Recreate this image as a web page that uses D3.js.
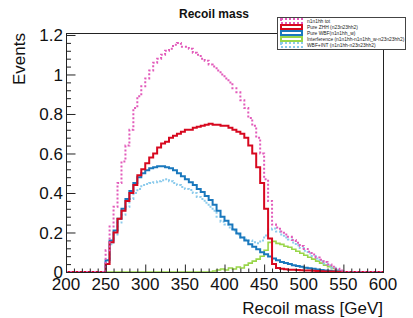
<!DOCTYPE html>
<html>
<head>
<meta charset="utf-8">
<script src="https://cdn.jsdelivr.net/npm/d3@7"></script>
<style>
  body { margin: 0; background: #fff; }
  svg { display: block; font-family: "Liberation Sans", Arial, Helvetica, sans-serif; }
</style>
</head>
<body>
<div id="chart"></div>
<script>
// histogram binning: 5 GeV bins from 200 to 600
var binLow = 200, binWidth = 5;

var zeros10 = [0, 0, 0, 0, 0, 0, 0, 0, 0, 0];

// n1n1hh tot
var totVals = zeros10.concat([
  0.11, 0.23, 0.33, 0.45, 0.56, 0.64, 0.72, 0.83, 0.89, 0.94,
  0.98, 1.02, 1.06, 1.08, 1.10, 1.12, 1.13, 1.15, 1.16, 1.14,
  1.14, 1.13, 1.11, 1.10, 1.08, 1.07, 1.05, 1.04, 1.02, 1.00,
  0.98, 0.96, 0.93, 0.91, 0.87, 0.83, 0.78, 0.74, 0.68, 0.60,
  0.47, 0.36, 0.24, 0.225, 0.205, 0.19, 0.178, 0.162, 0.148, 0.132,
  0.117, 0.103, 0.088, 0.074, 0.062, 0.05, 0.038, 0.026, 0.016, 0.007
]).concat(zeros10);

// Pure ZHH
var zhhVals = zeros10.concat([
  0.04, 0.15, 0.20, 0.27, 0.31, 0.36, 0.40, 0.44, 0.49, 0.52,
  0.55, 0.58, 0.60, 0.63, 0.65, 0.66, 0.68, 0.69, 0.70, 0.71,
  0.72, 0.72, 0.73, 0.735, 0.74, 0.745, 0.75, 0.745, 0.745, 0.74,
  0.74, 0.73, 0.72, 0.71, 0.70, 0.68, 0.64, 0.60, 0.53, 0.45,
  0.32, 0.17, 0.04, 0.02, 0.016, 0.014, 0.012, 0.011, 0.01, 0.009,
  0.008, 0.007, 0.006, 0.005, 0.004, 0.003, 0.003, 0.002, 0.001, 0.001
]).concat(zeros10);

// Pure WBF
var wbfVals = zeros10.concat([
  0.06, 0.16, 0.21, 0.27, 0.32, 0.37, 0.41, 0.45, 0.48, 0.50,
  0.515, 0.525, 0.53, 0.535, 0.535, 0.53, 0.525, 0.515, 0.50, 0.485,
  0.47, 0.455, 0.44, 0.42, 0.405, 0.385, 0.365, 0.34, 0.31, 0.28,
  0.26, 0.24, 0.215, 0.195, 0.175, 0.16, 0.14, 0.128, 0.115, 0.10,
  0.09, 0.078, 0.068, 0.06, 0.05, 0.045, 0.04, 0.034, 0.03, 0.026,
  0.022, 0.019, 0.016, 0.013, 0.01, 0.008, 0.006, 0.004, 0.002, 0.001
]).concat(zeros10);

// Interference
var intVals = zeros10.concat([
  0, 0, 0, 0, 0, 0, 0, 0, 0, 0,
  0, 0, 0, 0, 0, 0, 0, 0, 0, 0,
  0, 0, 0, 0, 0, 0, 0, 0.005, 0.01, 0.015,
  0.01, 0.02, 0.015, 0.025, 0.02, 0.035, 0.045, 0.055, 0.065, 0.08,
  0.11, 0.15, 0.155, 0.145, 0.14, 0.13, 0.125, 0.115, 0.105, 0.095,
  0.085, 0.075, 0.065, 0.055, 0.045, 0.035, 0.027, 0.018, 0.01, 0.004
]).concat(zeros10);

// WBF+INT
var wbfIntVals = zeros10.concat([
  0.05, 0.14, 0.19, 0.25, 0.29, 0.33, 0.37, 0.40, 0.42, 0.44,
  0.445, 0.45, 0.455, 0.46, 0.465, 0.47, 0.46, 0.45, 0.44, 0.43,
  0.42, 0.415, 0.40, 0.38, 0.37, 0.35, 0.33, 0.31, 0.28, 0.255,
  0.24, 0.225, 0.21, 0.19, 0.175, 0.165, 0.16, 0.15, 0.145, 0.16,
  0.185, 0.215, 0.22, 0.205, 0.19, 0.175, 0.165, 0.149, 0.135, 0.121,
  0.107, 0.094, 0.081, 0.068, 0.055, 0.043, 0.033, 0.022, 0.012, 0.005
]).concat(zeros10);

var xTicks = [200, 250, 300, 350, 400, 450, 500, 550, 600];
var yTicks = [0, 0.2, 0.4, 0.6, 0.8, 1, 1.2];

var legendLabels = [
  "n1n1hh tot",
  "Pure ZHH (n23n23hh2)",
  "Pure WBF(n1n1hh_w)",
  "Interference (n1n1hh-n1n1hh_w-n23n23hh2)",
  "WBF+INT (n1n1hh-n23n23hh2)"
];

var series = [
  { vals: intVals,    color: "#99d64a", width: 1.6, dash: null },
  { vals: wbfIntVals, color: "#8ccbec", width: 2,   dash: "2,2" },
  { vals: wbfVals,    color: "#1a78bd", width: 2,   dash: null },
  { vals: zhhVals,    color: "#d7081f", width: 2,   dash: null },
  { vals: totVals,    color: "#e25bba", width: 2,   dash: "2,2" }
];
// legend order
var legendSeries = [series[4], series[3], series[2], series[0], series[1]];

var svgWidth = 413, svgHeight = 318;
var frame = { left: 66, right: 383, top: 33, bottom: 272 };

var svg = d3.select("#chart").append("svg")
  .attr("width", svgWidth).attr("height", svgHeight);

var x = d3.scaleLinear().domain([200, 600]).range([frame.left, frame.right]);
var y = d3.scaleLinear().domain([0, 1.21]).range([frame.bottom, frame.top]);

// histograms
var plot = svg.append("g");
plot.append("clipPath").attr("id", "clip").append("rect")
  .attr("x", frame.left).attr("y", frame.top - 2)
  .attr("width", frame.right - frame.left).attr("height", frame.bottom - frame.top + 4);

var line = d3.line()
  .x(function (d) { return x(d[0]); })
  .y(function (d) { return y(d[1]); })
  .curve(d3.curveStepAfter);

series.forEach(function (s) {
  var pts = s.vals.map(function (v, i) { return [binLow + i * binWidth, v]; });
  pts.push([binLow + s.vals.length * binWidth, s.vals[s.vals.length - 1]]);
  plot.append("path")
    .datum(pts)
    .attr("clip-path", "url(#clip)")
    .attr("d", line)
    .attr("fill", "none")
    .attr("stroke", s.color)
    .attr("stroke-width", s.width)
    .attr("stroke-dasharray", s.dash);
});

// frame
svg.append("rect")
  .attr("x", frame.left + 0.5).attr("y", frame.top + 0.5)
  .attr("width", frame.right - frame.left).attr("height", frame.bottom - frame.top)
  .attr("fill", "none").attr("stroke", "#222").attr("stroke-width", 1);

// y axis (ticks inward)
var yAxis = d3.axisRight(y)
  .tickValues(d3.range(0, 1.2001, 0.04))
  .tickSize(0).tickFormat("");
var yg = svg.append("g").attr("transform", "translate(" + (frame.left + 0.5) + ",0)").call(yAxis);
yg.select(".domain").remove();
yg.selectAll(".tick line")
  .attr("stroke", "#222")
  .attr("x2", function (d) { return Math.abs(d * 5 - Math.round(d * 5)) < 1e-6 ? 9 : 4.5; });

svg.append("g").selectAll("text")
  .data(yTicks).enter().append("text")
  .attr("x", frame.left - 3)
  .attr("y", function (d) { return y(d); })
  .attr("dy", "0.36em")
  .attr("text-anchor", "end")
  .attr("font-size", 17)
  .attr("fill", "#111")
  .text(function (d) { return d === 0 ? "0" : String(+d.toFixed(1)); });

// x axis (ticks inward)
var xAxis = d3.axisTop(x)
  .tickValues(d3.range(200, 600.001, 10))
  .tickSize(0).tickFormat("");
var xg = svg.append("g").attr("transform", "translate(0," + (frame.bottom + 0.5) + ")").call(xAxis);
xg.select(".domain").remove();
xg.selectAll(".tick line")
  .attr("stroke", "#222")
  .attr("y2", function (d) { return d % 50 === 0 ? -8 : -4; });

svg.append("g").selectAll("text")
  .data(xTicks).enter().append("text")
  .attr("x", function (d) { return x(d); })
  .attr("y", 290)
  .attr("text-anchor", "middle")
  .attr("font-size", 17)
  .attr("fill", "#111")
  .text(function (d) { return d; });

// titles
svg.append("text")
  .attr("x", frame.right).attr("y", 314)
  .attr("text-anchor", "end").attr("font-size", 17).attr("fill", "#111")
  .text("Recoil mass [GeV]");

svg.append("text")
  .attr("transform", "translate(25," + frame.top + ")rotate(-90)")
  .attr("text-anchor", "end").attr("font-size", 17).attr("fill", "#111")
  .text("Events");

svg.append("text")
  .attr("x", 214).attr("y", 18)
  .attr("text-anchor", "middle").attr("font-size", 12).attr("font-weight", "bold")
  .attr("fill", "#111")
  .text("Recoil mass");

// legend
var legend = svg.append("g");
legend.append("rect")
  .attr("x", 277.5).attr("y", 17.5).attr("width", 128).attr("height", 32)
  .attr("fill", "#fff").attr("stroke", "#444").attr("stroke-width", 1);

var entryY = [21, 27, 33, 39, 45];
legendSeries.forEach(function (s, i) {
  legend.append("rect")
    .attr("x", 281).attr("y", entryY[i] - 2)
    .attr("width", 21).attr("height", 4)
    .attr("fill", "none")
    .attr("stroke", s.color)
    .attr("stroke-width", 2)
    .attr("stroke-dasharray", s.dash);
  legend.append("text")
    .attr("x", 307).attr("y", entryY[i])
    .attr("dy", "0.35em")
    .attr("font-size", 4.9)
    .attr("fill", "#222")
    .text(legendLabels[i]);
});
</script>
</body>
</html>
